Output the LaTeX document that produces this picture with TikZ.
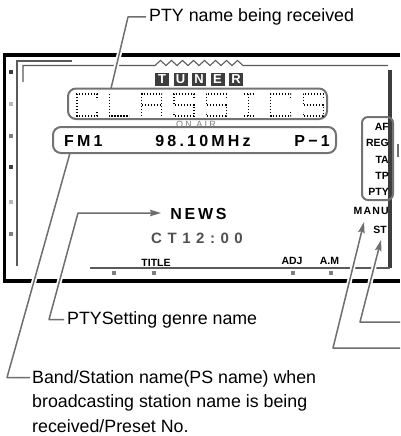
\documentclass[tikz,border=0pt]{standalone}
\usepackage{fontspec}
\setmainfont{Liberation Sans}
\usepackage{tikz}
\usetikzlibrary{arrows.meta, positioning}
\definecolor{leadgray}{HTML}{6E6E6E}
\definecolor{boxgray}{HTML}{737373}
\definecolor{framegray}{HTML}{5A5A5A}
\definecolor{lcddark}{HTML}{3D3D3D}
\definecolor{lcdmid}{HTML}{7E7E7E}
\definecolor{lcdlight}{HTML}{B8B8B8}
\definecolor{clockgray}{HTML}{505050}

\begin{document}
\begin{tikzpicture}[x=1pt, y=-1pt,
    leader/.style={draw=leadgray, line width=1.5pt, line join=round,
      preaction={draw=white, line width=5pt, arrows=-, shorten >=3pt}},
    tip/.style={-{Stealth[length=11pt, width=6.5pt, inset=1.5pt]}},
    note/.style={inner sep=0pt, font={\fontsize{17.8}{24.5}\selectfont}, align=left},
    lcdbox/.style={draw=boxgray, line width=2pt, rounded corners=8pt},
    panel/.style={draw=framegray, line width=1.4pt},
    lcdtxt/.style={inner sep=0pt, font={\bfseries\fontsize{16}{16}\selectfont\addfontfeature{LetterSpace=20}}},
    tag/.style={inner sep=0pt, font={\bfseries\fontsize{10.5}{10.5}\selectfont}},
    tunerkey/.style={fill=lcddark, text=white, minimum width=14pt, minimum height=13.5pt,
      inner sep=0pt, font={\bfseries\fontsize{13}{13}\selectfont}},
    dotmat/.style={draw=black, line width=1.2pt, dash pattern=on 1.2pt off 1.8pt},
    pics/dmC/.style={code={\draw[dotmat] (20,4) -- (20,0) -- (0,0) -- (0,22) -- (20,22) -- (20,18);}},
    pics/dmL/.style={code={\draw[dotmat] (0,0) -- (0,22) -- (20,22);}},
    pics/dmA/.style={code={\draw[dotmat] (0,22) -- (0,0) -- (20,0) -- (20,22); \draw[dotmat] (0,11) -- (20,11);}},
    pics/dmS/.style={code={\draw[dotmat] (20,4) -- (20,0) -- (0,0) -- (0,11) -- (20,11) -- (20,22) -- (0,22) -- (0,18);}},
    pics/dmI/.style={code={\draw[dotmat] (5,0) -- (15,0); \draw[dotmat] (10,0) -- (10,22); \draw[dotmat] (5,22) -- (15,22);}}
  ]
  \useasboundingbox (0,0) rectangle (400,436);

  % display frame
  \draw[line width=3.8pt] (400,55) -- (4.5,55) -- (4.5,281) -- (400,281);
  \draw[panel] (72,61) -- (17,61) -- (17,266);
  \draw[panel, line width=1.1pt] (23,82) -- (23,65.5) -- (155,65.5)
    \foreach \k in {1,...,8} { -- ++(5.5,-5) -- ++(5.5,5) } -- (388,65.5);
  \draw[lcddark, line width=3.5pt] (390,70) -- (390,268);
  \draw[panel] (90,268) -- (390,268);
  \foreach \yy/\cc in {72/lcddark, 104/lcdlight, 135.5/lcdmid, 166.5/lcddark, 201.5/lcdlight, 233.5/lcdmid}
    \fill[\cc] (9,\yy-2) rectangle (13,\yy+2);
  \foreach \xx in {114, 154, 293, 331}
    \fill[lcdmid] (\xx-2,271) rectangle (\xx+2,275);

  % TUNER keys
  \foreach \ch [count=\i from 0] in {T,U,N,E,R}
    \node[tunerkey] (tuner\i) at (162+18.5*\i, 79.5) {\ch};

  % PTY name (dot matrix)
  \draw[lcdbox] (68,88.5) rectangle (327,119);
  \pic at (77,94) {dmC};
  \pic at (109.3,94) {dmL};
  \pic at (141.6,94) {dmA};
  \pic at (173.9,94) {dmS};
  \pic at (206.2,94) {dmS};
  \pic at (238.5,94) {dmI};
  \pic at (270.8,94) {dmC};
  \pic at (303.1,94) {dmS};

  % band / frequency / preset
  \draw[lcdbox] (53,127) rectangle (336,153);
  \node[inner sep=0pt, text=lcdmid, font={\fontsize{9}{9}\selectfont\addfontfeature{LetterSpace=25}}] (onAir) at (196,124) {ON AIR};
  \node[lcdtxt, anchor=west] (bandTxt) at (64,140.5) {FM1};
  \node[lcdtxt] (freqTxt) at (203,140.5) {98.10MHz};
  \node[lcdtxt, anchor=east] (presetTxt) at (330,140.5) {P−1};

  % indicators
  \draw[lcdbox, rounded corners=6pt] (362,117) rectangle (393,200);
  \foreach \txt/\yy in {AF/127, REG/143, TA/160, TP/176, PTY/192}
    \node[tag, anchor=east] (ind\txt) at (389,\yy) {\txt};
  \draw[leadgray, line width=1.2pt] (398,144) -- (398,157);
  \node[tag, anchor=east, font={\bfseries\fontsize{10.5}{10.5}\selectfont\addfontfeature{LetterSpace=12}}] (manuTxt) at (389,211) {MANU};
  \node[tag, anchor=east] (stTxt) at (387,229.5) {ST};
  \node[tag] (titleTxt) at (156,262.5) {TITLE};
  \node[tag] (adjTxt) at (292,261) {ADJ};
  \node[tag] (amTxt) at (329.5,261) {A.M};

  % genre and clock
  \node[lcdtxt, font={\bfseries\fontsize{16}{16}\selectfont\addfontfeature{LetterSpace=17}}] (newsTxt) at (198.5,214) {NEWS};
  \node[lcdtxt, text=clockgray, font={\bfseries\fontsize{15}{15}\selectfont\addfontfeature{LetterSpace=37}}] (clockTxt) at (197,238.5) {CT12:00};

  % callouts
  \node[note, anchor=west] (lblPty) at (149,17) {PTY name being received};
  \node[note, anchor=west] (lblGenre) at (67,319.5) {PTYSetting genre name};
  \node[note, anchor=north west] (lblBand) at (32,370) {Band/Station name(PS name) when\\broadcasting station name is being\\received/Preset No.};

  \coordinate (clsHook) at (111,88.5);
  \coordinate (fmHook) at (70,153);
  \coordinate (genreKnee) at (78,213);
  \coordinate (newsTip) at (161,213);
  \coordinate (manuTip) at (364,222);
  \coordinate (stTip) at (381,240);
  \coordinate (manuEnd) at (400,348);
  \coordinate (stEnd) at (400,322);

  \draw[leader] ([xshift=-3pt]lblPty.west) -- ++(-18,0) -- (clsHook);
  \draw[leader, tip] ([xshift=-3pt]lblGenre.west) -- ++(-15,0) -- (genreKnee) -- (newsTip);
  \draw[leader] ([xshift=-2pt, yshift=-7.5pt]lblBand.north west) -- ++(-23,0) -- (fmHook);
  \draw[leader, tip] (manuEnd) -- ++(-67,0) -- (manuTip);
  \draw[leader, tip] (stEnd) -- ++(-40,0) -- (stTip);
\end{tikzpicture}
\end{document}
